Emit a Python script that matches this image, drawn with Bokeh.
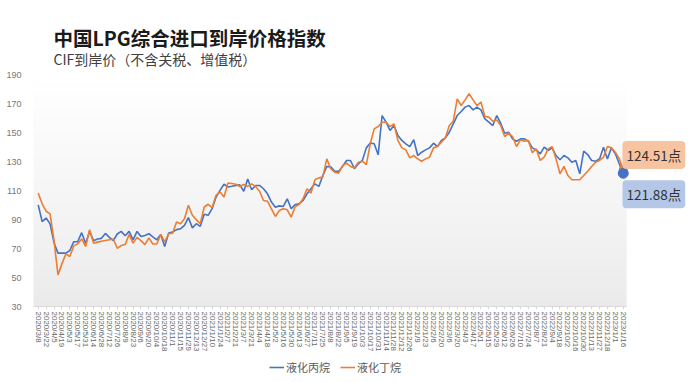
import math
import numpy as np
import pandas as pd
from bokeh.plotting import figure
from bokeh.models import FixedTicker, Label, Legend, LegendItem, Range1d
from bokeh.embed import file_html
from bokeh.resources import INLINE

# ---------------- data ----------------
title_text = "中国LPG综合进口到岸价格指数"
subtitle_text = "CIF到岸价（不含关税、增值税）"
series_names = ["液化丙烷", "液化丁烷"]
unit_suffix = "点"

weekly_dates = pd.date_range("2020-03-08", "2022-11-27", freq="7D")
tail_dates = ["2022-12-11", "2022-12-18", "2022-12-25", "2023-01-01", "2023-01-08", "2023-01-16"]
dates = list(weekly_dates) + [pd.Timestamp(d) for d in tail_dates]
date_labels = [f"{d.year}/{d.month}/{d.day}" for d in dates]

propane = [
    100.1, 88.6, 91.0, 87.0, 74.0, 66.8, 66.8, 66.8, 68.6, 74.7,
    74.7, 80.9, 73.5, 81.8, 75.4, 76.5, 77.0, 80.4, 77.7, 75.4,
    80.0, 81.8, 78.8, 81.8, 76.0, 81.8, 78.3, 79.0, 80.2, 78.0,
    76.0, 79.7, 71.4, 80.6, 81.3, 83.0, 83.6, 86.0, 91.3, 84.2,
    87.1, 85.3, 93.6, 92.9, 97.5, 105.5, 110.1, 114.3, 112.4, 112.9,
    113.5, 113.9, 109.5, 118.0, 110.5, 113.5, 113.5, 111.2, 107.7, 102.0,
    98.5, 99.4, 99.0, 104.3, 97.4, 100.4, 100.8, 103.1, 107.7, 111.2,
    114.6, 112.8, 120.3, 126.6, 126.4, 123.3, 123.3, 126.6, 130.7, 130.7,
    125.0, 128.4, 130.7, 139.4, 142.7, 142.2, 134.6, 161.7, 157.1, 151.4,
    154.8, 148.0, 144.5, 142.2, 140.3, 145.0, 134.1, 136.4, 138.0, 139.4,
    142.6, 140.3, 144.5, 146.3, 150.2, 156.0, 161.7, 164.5, 167.5, 168.6,
    165.6, 167.5, 165.6, 159.4, 157.1, 154.8, 161.7, 156.4, 149.5, 150.2,
    145.6, 144.0, 145.6, 145.6, 144.0, 139.4, 138.0, 135.3, 139.9, 137.6,
    139.4, 134.1, 131.2, 134.1, 132.5, 129.5, 130.7, 121.5, 137.1, 134.8,
    130.7, 130.2, 131.8, 139.9, 131.8, 139.4, 135.3, 128.4, 121.88,
]

butane = [
    108.2, 100.8, 95.7, 93.9, 75.5, 51.8, 59.4, 66.3, 64.5, 71.8,
    73.2, 76.6, 71.4, 82.9, 73.7, 74.4, 75.0, 75.5, 76.0, 76.6,
    70.2, 72.0, 72.7, 79.6, 73.7, 77.7, 75.4, 72.7, 77.3, 73.1,
    73.1, 79.7, 74.5, 80.2, 80.6, 88.2, 87.1, 90.5, 99.8, 92.9,
    89.9, 87.1, 98.6, 100.5, 98.2, 106.7, 109.0, 105.5, 115.2, 114.8,
    114.3, 112.8, 114.1, 112.8, 114.6, 112.8, 109.5, 103.1, 102.6, 97.4,
    92.1, 96.2, 97.4, 96.7, 91.6, 99.0, 100.4, 104.3, 111.2, 108.2,
    117.4, 118.7, 119.2, 131.8, 125.0, 122.6, 122.0, 127.2, 128.9, 126.6,
    125.6, 129.5, 130.2, 127.9, 142.2, 152.5, 154.1, 157.1, 157.1, 154.1,
    156.0, 144.5, 139.4, 138.0, 132.5, 134.1, 131.8, 130.2, 131.8, 133.0,
    139.4, 140.3, 143.3, 146.3, 154.8, 157.8, 173.2, 168.6, 172.5, 176.7,
    172.5, 168.6, 171.0, 161.0, 160.6, 157.8, 158.7, 154.8, 147.2, 149.5,
    147.2, 140.3, 145.0, 144.0, 144.5, 136.0, 138.7, 130.7, 133.0, 138.7,
    140.3, 131.8, 121.5, 126.6, 120.3, 117.4, 117.4, 117.4, 120.3, 123.3,
    126.6, 129.5, 130.7, 133.0, 140.3, 139.4, 136.4, 131.8, 124.51,
]

y_ticks = [30, 50, 70, 90, 110, 130, 150, 170, 190]

# ---------------- styling ----------------
BLUE = "#4472C4"
ORANGE = "#ED7D31"
CJK = "Noto Sans CJK SC"
LAT = "Liberation Sans"

n = len(dates)
xs = list(range(n))

# The frame covers the whole canvas; axes are pinned with fixed_location so that
# titles, value boxes and legend (all inside the frame) are never clipped.
FRAME_W, FRAME_H = 688, 380
PX_PER_X = 3.953          # px per weekly step
PX_PER_Y = 1.45           # px per index point
FIRST_X_PX = 37.7         # pixel of the first week
AXIS_Y_PX = 306           # pixel row of the x axis (value 30)
x0 = -FIRST_X_PX / PX_PER_X
x1 = x0 + FRAME_W / PX_PER_X
y0 = y_ticks[0] - (FRAME_H - AXIS_Y_PX) / PX_PER_Y
y1 = y0 + FRAME_H / PX_PER_Y
x_left = -1.2
x_right = n - 1 + 0.85

p = figure(frame_width=FRAME_W, frame_height=FRAME_H, output_backend="svg", toolbar_location=None,
           x_range=Range1d(x0, x1), y_range=Range1d(y0, y1),
           min_border_left=0, min_border_right=0, min_border_top=0, min_border_bottom=0,
           title_location=None)
p.outline_line_color = None
p.background_fill_color = "white"
p.border_fill_color = "white"
p.grid.visible = False

# vertical gradient behind the data area
ny = 120
img = np.empty((ny, 1), dtype=np.uint32)
view = img.view(dtype=np.uint8).reshape((ny, 1, 4))
for j in range(ny):
    t = j / (ny - 1)
    c = int(round(234 + (255 - 234) * t ** 0.85))
    view[j, 0, :] = [c, c, c, 255]
p.image_rgba(image=[img], x=x_left, y=y_ticks[0], dw=x_right - x_left,
             dh=y_ticks[-1] - y_ticks[0], level="image")

r_prop = p.line(xs, propane, line_color=BLUE, line_width=1.6)
r_but = p.line(xs, butane, line_color=ORANGE, line_width=1.6)

# end markers
p.scatter([xs[-1]], [butane[-1]], size=8, color=ORANGE)
p.scatter([xs[-1]], [propane[-1]], size=10, color=BLUE)

# axes (pinned inside the frame)
p.xaxis.fixed_location = y_ticks[0]
p.xaxis.bounds = (x_left, x_right)
p.xaxis.ticker = FixedTicker(ticks=list(range(0, n, 2)))
p.xaxis.major_label_overrides = {i: date_labels[i] for i in range(0, n, 2)}
p.xaxis.major_label_orientation = -math.pi / 2
p.xaxis.major_label_text_font = LAT
p.xaxis.major_label_text_font_size = "8px"
p.xaxis.major_label_text_color = "#666666"
p.xaxis.axis_line_color = "#d9d9d9"
p.xaxis.major_tick_line_color = "#d9d9d9"
p.xaxis.major_tick_out = 3
p.xaxis.major_tick_in = 0
p.xaxis.minor_tick_line_color = None
p.xaxis.major_label_standoff = 2

p.yaxis.fixed_location = x_left
p.yaxis.bounds = (y_ticks[0], y_ticks[-1])
p.yaxis.ticker = FixedTicker(ticks=y_ticks)
p.yaxis.axis_line_color = None
p.yaxis.major_tick_line_color = None
p.yaxis.minor_tick_line_color = None
p.yaxis.major_label_text_font = LAT
p.yaxis.major_label_text_font_size = "9px"
p.yaxis.major_label_text_color = "#777777"
p.yaxis.major_label_standoff = 6

# titles (screen units, origin at frame bottom-left)
p.add_layout(Label(x=53, y=343.5, x_units="screen", y_units="screen", text=title_text,
                   text_font=CJK, text_font_size="19.5px", text_font_style="bold",
                   text_color="#1a1a1a", text_baseline="middle"))
p.add_layout(Label(x=53, y=322, x_units="screen", y_units="screen", text=subtitle_text,
                   text_font=CJK, text_font_size="14px",
                   text_color="#404040", text_baseline="middle"))

# end value boxes
p.add_layout(Label(x=622, y=225.5, x_units="screen", y_units="screen",
                   text=f"{butane[-1]:.2f}{unit_suffix}", text_font=CJK, text_font_size="13.5px",
                   text_color="#333333", text_baseline="middle",
                   background_fill_color="#F6C4A0", border_line_color=None,
                   padding=4, border_radius=4))
p.add_layout(Label(x=622, y=186.3, x_units="screen", y_units="screen",
                   text=f"{propane[-1]:.2f}{unit_suffix}", text_font=CJK, text_font_size="13.5px",
                   text_color="#333333", text_baseline="middle",
                   background_fill_color="#B4C7E7", border_line_color=None,
                   padding=4, border_radius=4))

legend = Legend(items=[LegendItem(label=series_names[0], renderers=[r_prop]),
                       LegendItem(label=series_names[1], renderers=[r_but])],
                location=(269, 5), orientation="horizontal")
legend.label_text_font = CJK
legend.label_text_font_size = "11px"
legend.label_text_color = "#595959"
legend.glyph_width = 15
legend.glyph_height = 12
legend.label_standoff = 2
legend.spacing = 10
legend.padding = 0
legend.margin = 0
legend.border_line_color = None
legend.background_fill_alpha = 0
p.add_layout(legend)

open("out.html", "w").write(file_html(p, INLINE))
